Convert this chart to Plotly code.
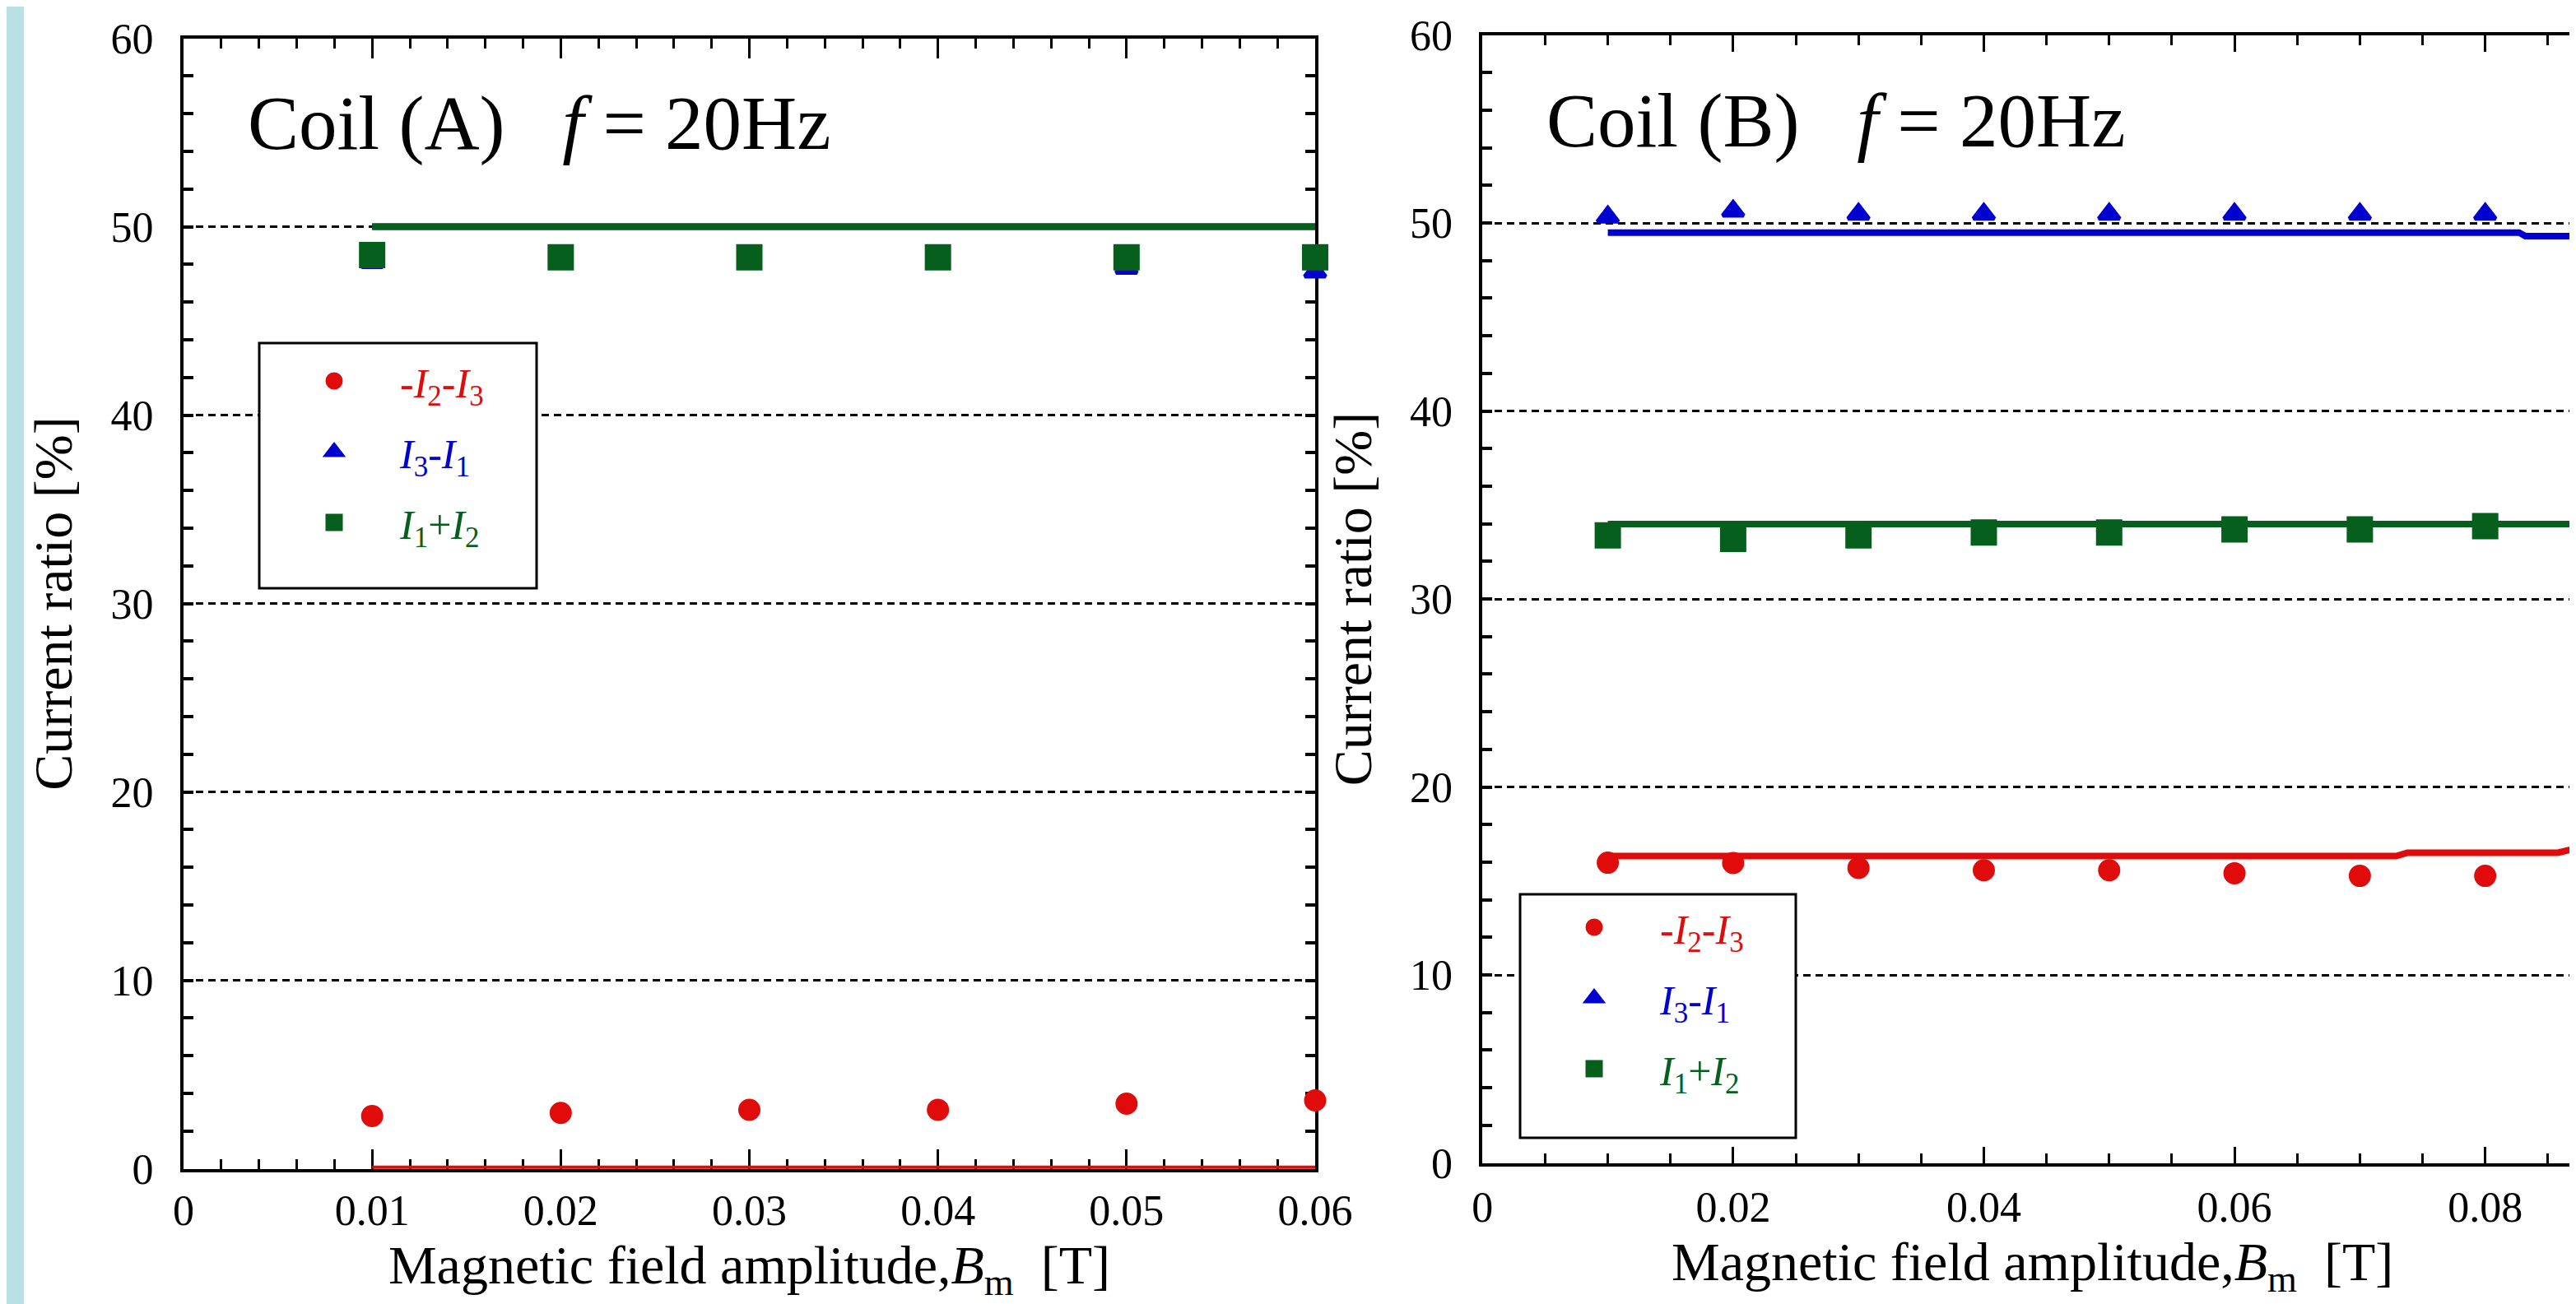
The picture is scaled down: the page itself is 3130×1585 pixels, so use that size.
import plotly.graph_objects as go

W, H = 3130, 1585
FONT = "Liberation Serif"
RED, BLUE, GREEN = "#e00b0b", "#0000d0", "#075f1e"

# ---------------- data: Coil (A) ----------------
xA = [0.01, 0.02, 0.03, 0.04, 0.05, 0.06]
A_red = [2.80, 2.97, 3.13, 3.13, 3.46, 3.63]        # -I2-I3
A_blue = [48.1, 48.2, 48.2, 48.1, 47.8, 47.6]       # I3-I1
A_green = [48.5, 48.38, 48.38, 48.38, 48.38, 48.38]  # I1+I2
A_line_x = [0.01, 0.06]
A_line_red = [0.0, 0.0]
A_line_blue = [50.0, 50.0]
A_line_green = [50.0, 50.0]

# ---------------- data: Coil (B) ----------------
xB = [0.01, 0.02, 0.03, 0.04, 0.05, 0.06, 0.07, 0.08]
B_red = [15.97, 15.95, 15.69, 15.57, 15.57, 15.41, 15.27, 15.27]
B_blue = [50.32, 50.63, 50.47, 50.47, 50.47, 50.47, 50.47, 50.47]
B_green = [33.38, 33.19, 33.38, 33.53, 33.53, 33.70, 33.70, 33.87]
B_line_red_x = [0.01, 0.0729, 0.0738, 0.0858, 0.0869, 0.09]
B_line_red = [16.32, 16.32, 16.50, 16.50, 16.67, 16.67]
B_line_blue_x = [0.01, 0.0827, 0.0832, 0.0873, 0.0878, 0.09]
B_line_blue = [49.49, 49.49, 49.30, 49.30, 49.10, 49.10]
B_line_green_x = [0.01, 0.09]
B_line_green = [33.98, 33.98]

names = [
    f"<span style='color:{RED}'>-<i>I</i><sub>2</sub>-<i>I</i><sub>3</sub></span>",
    f"<span style='color:{BLUE}'><i>I</i><sub>3</sub>-<i>I</i><sub>1</sub></span>",
    f"<span style='color:{GREEN}'><i>I</i><sub>1</sub>+<i>I</i><sub>2</sub></span>",
]
colors = [RED, BLUE, GREEN]
symbols = ["circle", "triangle-up", "square"]
msizes = [22, 22, 27]
MLINE = 5

fig = go.Figure()

def add_panel(xa, ya, legend, line_sets, x_pts, pts_sets):
    for (lx, ly), c in zip(line_sets, colors):
        fig.add_trace(go.Scatter(x=lx, y=ly, mode="lines", line=dict(color=c, width=8),
                                 xaxis=xa, yaxis=ya, showlegend=False, hoverinfo="skip"))
    for i, (ys, c) in enumerate(zip(pts_sets, colors)):
        fig.add_trace(go.Scatter(x=x_pts, y=ys, mode="markers", name=names[i],
                                 marker=dict(color=c, symbol=symbols[i], size=msizes[i],
                                             line=dict(color=c, width=MLINE)),
                                 xaxis=xa, yaxis=ya, legend=legend,
                                 legendgroup=f"{legend}{i}", cliponaxis=False))

add_panel("x", "y", "legend",
          [(A_line_x, A_line_red), (A_line_x, A_line_blue), (A_line_x, A_line_green)],
          xA, [A_red, A_blue, A_green])
add_panel("x2", "y2", "legend2",
          [(B_line_red_x, B_line_red), (B_line_blue_x, B_line_blue), (B_line_green_x, B_line_green)],
          xB, [B_red, B_blue, B_green])

tickfont = dict(family=FONT, size=52, color="black")
titlefont = dict(family=FONT, size=66, color="black")
xtitle = "Magnetic field amplitude,<i>B</i><sub>m</sub>  [T]"
ytitle = "Current ratio [%]"

def xaxis_cfg(domain, rng, dtick, minor_dtick, majlen, anchor, standoff):
    return dict(domain=domain, range=rng, anchor=anchor, tickmode="linear", tick0=0, dtick=dtick,
                ticks="inside", ticklen=majlen, tickwidth=3, tickcolor="black",
                minor=dict(dtick=minor_dtick, tick0=0, ticks="inside", ticklen=12,
                           tickwidth=3, tickcolor="black", showgrid=False),
                showline=True, linewidth=4, linecolor="black", mirror="ticks",
                showgrid=False, zeroline=False, tickfont=tickfont, layer="below traces",
                ticklabelstandoff=standoff, automargin=False,
                title=dict(text=xtitle, font=titlefont, standoff=16))

def yaxis_cfg(domain, mirror, anchor):
    return dict(domain=domain, range=[0, 60], anchor=anchor, tickmode="linear", tick0=0, dtick=10,
                ticks="inside", ticklen=12, tickwidth=4, tickcolor="black",
                minor=dict(dtick=2, tick0=0, ticks="inside", ticklen=12, tickwidth=4,
                           tickcolor="black", showgrid=False),
                showline=True, linewidth=4, linecolor="black", mirror=mirror,
                showgrid=True, gridcolor="black", gridwidth=3, griddash="9px,6px",
                zeroline=False, tickfont=tickfont, ticklabelstandoff=22, automargin=False,
                layer="below traces",
                title=dict(text=ytitle, font=titlefont, standoff=26))

fig.update_layout(
    width=W, height=H,
    margin=dict(l=0, r=0, t=0, b=0),
    paper_bgcolor="white", plot_bgcolor="white",
    font=dict(family=FONT, color="black"),
    xaxis=xaxis_cfg([215 / W, 1590 / W], [0, 0.06], 0.01, 0.002, 24, "y", 2),
    yaxis=yaxis_cfg([1 - 1412.7 / H, 1 - 38.5 / H], "ticks", "x"),
    xaxis2=xaxis_cfg([1793.3 / W, 1.0], [0, 0.08777], 0.02, 0.005, 20, "y2", 5),
    yaxis2=yaxis_cfg([1 - 1405.5 / H, 1 - 34.5 / H], False, "x2"),
    legend=dict(x=318 / W, xanchor="left", y=1 - 416 / H, yanchor="top",
                bgcolor="rgba(0,0,0,0)", borderwidth=0, itemwidth=150,
                font=dict(family=FONT, size=50), tracegroupgap=18),
    legend2=dict(x=1849 / W, xanchor="left", y=1 - 1080 / H, yanchor="top",
                 bgcolor="rgba(0,0,0,0)", borderwidth=0, itemwidth=150,
                 font=dict(family=FONT, size=50), tracegroupgap=18),
    showlegend=True,
)

# side strip and legend boxes
fig.add_shape(type="rect", xref="paper", yref="paper", x0=0, x1=21 / W, y0=0, y1=1,
              fillcolor="#b9e0e3", line=dict(width=0), layer="below")
for (x0, x1, y0, y1) in [(307, 644, 409, 707), (1839, 2174, 1079, 1375)]:
    fig.add_shape(type="rect", xref="paper", yref="paper",
                  x0=x0 / W, x1=x1 / W, y0=1 - y1 / H, y1=1 - y0 / H,
                  fillcolor="white", line=dict(color="black", width=3), layer="above")

# panel titles
for txt, x, y in [("Coil (A)&nbsp;&nbsp; <i>f</i> = 20Hz", 291, 142),
                  ("Coil (B)&nbsp;&nbsp; <i>f</i> = 20Hz", 1869, 138)]:
    fig.add_annotation(text=txt, xref="paper", yref="paper", x=x / W, y=1 - y / H,
                       xanchor="left", yanchor="middle", showarrow=False,
                       font=dict(family=FONT, size=93, color="black"))

fig.write_html("out.html")
